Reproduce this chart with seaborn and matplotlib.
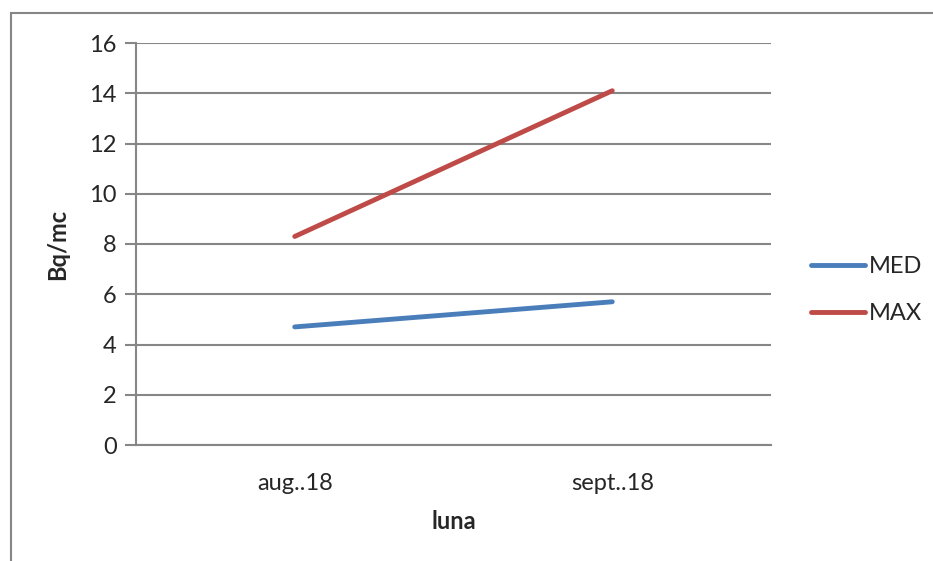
import pandas as pd
import matplotlib.pyplot as plt
from matplotlib.patches import Rectangle
from matplotlib.ticker import FixedLocator
import seaborn as sns

# values
months = ["aug..18", "sept..18"]
med = [4.7, 5.7]
mx = [8.3, 14.1]
series = ["MED", "MAX"]
yticks = [0, 2, 4, 6, 8, 10, 12, 14, 16]

df = pd.DataFrame({
    "luna": months * 2,
    "val": med + mx,
    "serie": ["MED"] * len(months) + ["MAX"] * len(months),
})

sns.set_style("white")
plt.rcParams["font.family"] = ["Lato", "DejaVu Sans"]

grey = "#868686"
colors = {"MED": "#4A7EBB", "MAX": "#BE4B48"}
fs = 17

fig = plt.figure(figsize=(9.33, 5.61), dpi=100)
ax = fig.add_axes([136 / 933, 1 - 445 / 561, 635 / 933, 402 / 561])

# outer chart frame (runs off right and bottom edge)
fig.patches.append(Rectangle((11 / 933, -0.1), 1.1, 1.1 - 13 / 561,
                             transform=fig.transFigure, fill=False,
                             edgecolor=grey, linewidth=1.5))

sns.lineplot(data=df, x="luna", y="val", hue="serie", hue_order=series,
             palette=colors, linewidth=3.5, ax=ax, legend=False,
             solid_capstyle="round")

ax.set_xlim(-0.5, 1.5)
ax.set_ylim(0, 16)
ax.set_yticks(yticks)
ax.set_xticks(range(len(months)))
ax.set_xticklabels(months)
ax.xaxis.set_minor_locator(FixedLocator([-0.5, 0.5, 1.5]))
ax.tick_params(axis="x", which="major", length=0, pad=20, labelsize=fs)
ax.tick_params(axis="x", which="minor", length=7, width=1.5, color=grey, direction="out")
ax.tick_params(axis="y", length=8, width=1.5, color=grey, direction="out", pad=6, labelsize=fs)
ax.tick_params(bottom=True, left=True)

ax.grid(axis="y", color=grey, linewidth=1.5)
ax.set_axisbelow(True)
for s in ["top", "right"]:
    ax.spines[s].set_visible(False)
for s in ["left", "bottom"]:
    ax.spines[s].set_color(grey)
    ax.spines[s].set_linewidth(1.5)

ax.set_xlabel("luna", fontsize=fs, fontweight="bold", labelpad=12)
ax.set_ylabel("Bq/mc", fontsize=fs, fontweight="bold", labelpad=14)

handles = [plt.Line2D([], [], color=colors[s], linewidth=3.5, solid_capstyle="round") for s in series]
fig.legend(handles, series, loc="center left", bbox_to_anchor=(811 / 933, 1 - 290 / 561),
           frameon=False, fontsize=fs, handlelength=2.3, handletextpad=0.15,
           labelspacing=1.1, borderaxespad=0, borderpad=0)

fig.savefig("out.png", dpi=100)
